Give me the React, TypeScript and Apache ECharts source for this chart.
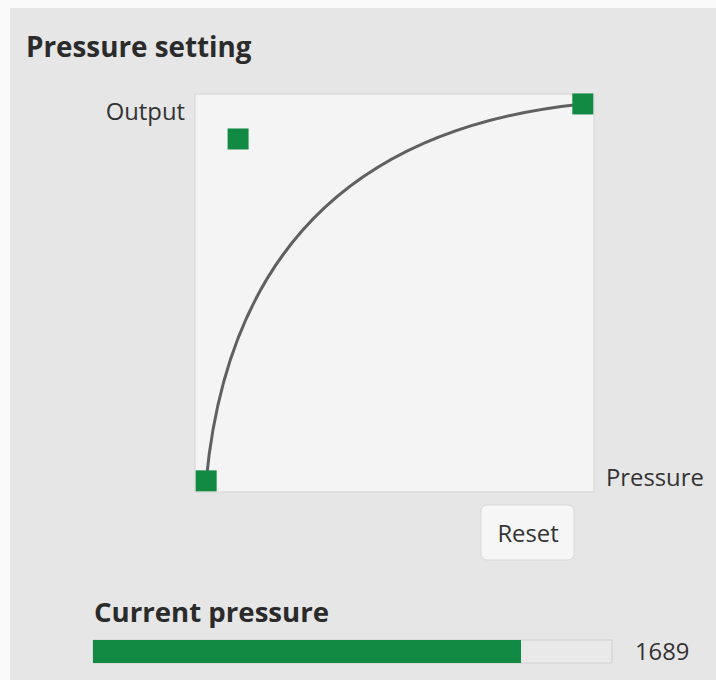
import React, { useEffect, useRef } from "react";
import * as echarts from "echarts";

// Curve points (pressure %, output %): start, control, end
const curvePressure = [2.8, 10.8, 97.2];
const curveOutput = [2.8, 88.7, 97.5];
const currentPressure = [1689];
const pressureMax = 2048;
const barCategories = ["current"];

const GREEN = "#128a43";
const FONT = "'Open Sans', 'Noto Sans', sans-serif";

export default function App() {
  const ref = useRef<HTMLDivElement>(null);
  useEffect(() => {
    if (!ref.current) return;
    const chart = echarts.init(ref.current, null, { renderer: "svg" });
    const handlePoints = curvePressure.map((x, i) => [x, curveOutput[i]]);
    const option: any = {
      animation: false,
      backgroundColor: "#fafafa",
      grid: [
        {
          left: 195, top: 94, width: 399, height: 398, show: true,
          backgroundColor: "#f3f4f3", borderColor: "#d4d4d4", borderWidth: 1,
        },
        { left: 93, top: 640, width: 519, height: 23, show: false },
      ],
      xAxis: [
        { type: "value", gridIndex: 0, min: 0, max: 100, show: false },
        { type: "value", gridIndex: 1, min: 0, max: pressureMax, show: false },
      ],
      yAxis: [
        { type: "value", gridIndex: 0, min: 0, max: 100, show: false },
        { type: "category", gridIndex: 1, data: barCategories, show: false },
      ],
      graphic: [
        { type: "rect", z: -10, shape: { x: 10, y: 8, width: 706, height: 672 }, style: { fill: "#e6e6e6" } },
        { type: "text", x: 26, y: 46, style: { text: "Pressure setting", font: `bold 27.8px ${FONT}`, fill: "#2b2b2b", textVerticalAlign: "middle" } },
        { type: "text", x: 185, y: 111, style: { text: "Output", font: `23.8px ${FONT}`, fill: "#333", textAlign: "right", textVerticalAlign: "middle" } },
        { type: "text", x: 606, y: 477, style: { text: "Pressure", font: `23.8px ${FONT}`, fill: "#333", textAlign: "left", textVerticalAlign: "middle" } },
        { type: "rect", shape: { x: 481, y: 505, width: 93, height: 55, r: 6 }, style: { fill: "#f6f6f6", stroke: "#d9d9d9", lineWidth: 1 } },
        { type: "text", x: 528, y: 533, style: { text: "Reset", font: `23.8px ${FONT}`, fill: "#333", textAlign: "center", textVerticalAlign: "middle" } },
        { type: "text", x: 94, y: 611, style: { text: "Current pressure", font: `bold 27.6px ${FONT}`, fill: "#2b2b2b", textVerticalAlign: "middle" } },
        { type: "text", x: 635, y: 651, style: { text: String(currentPressure[0]), font: `23.8px ${FONT}`, fill: "#333", textVerticalAlign: "middle" } },
      ],
      series: [
        {
          type: "custom",
          xAxisIndex: 0, yAxisIndex: 0,
          z: 1,
          data: [[curvePressure[0], curveOutput[0], curvePressure[1], curveOutput[1], curvePressure[2], curveOutput[2]]],
          encode: { x: [0, 2, 4], y: [1, 3, 5] },
          renderItem: (params: any, api: any) => {
            const p0 = api.coord([api.value(0), api.value(1)]);
            const p1 = api.coord([api.value(2), api.value(3)]);
            const p2 = api.coord([api.value(4), api.value(5)]);
            return {
              type: "bezierCurve",
              shape: { x1: p0[0], y1: p0[1], cpx1: p1[0], cpy1: p1[1], x2: p2[0], y2: p2[1] },
              style: { stroke: "#606060", lineWidth: 3, fill: null },
            };
          },
        },
        {
          type: "scatter",
          xAxisIndex: 0, yAxisIndex: 0,
          z: 5,
          symbol: "rect",
          symbolSize: 21,
          itemStyle: { color: GREEN, opacity: 1 },
          data: handlePoints,
        },
        {
          type: "bar",
          xAxisIndex: 1, yAxisIndex: 1,
          barWidth: 23,
          data: currentPressure,
          itemStyle: { color: GREEN },
          showBackground: true,
          backgroundStyle: { color: "#e9e9e9", borderColor: "#cfcfcf", borderWidth: 1 },
        },
      ],
    };
    chart.setOption(option);
    return () => chart.dispose();
  }, []);
  return (
    <div
      ref={ref}
      style={{ position: "absolute", left: 0, top: 0, width: 716, height: 680 }}
    />
  );
}
